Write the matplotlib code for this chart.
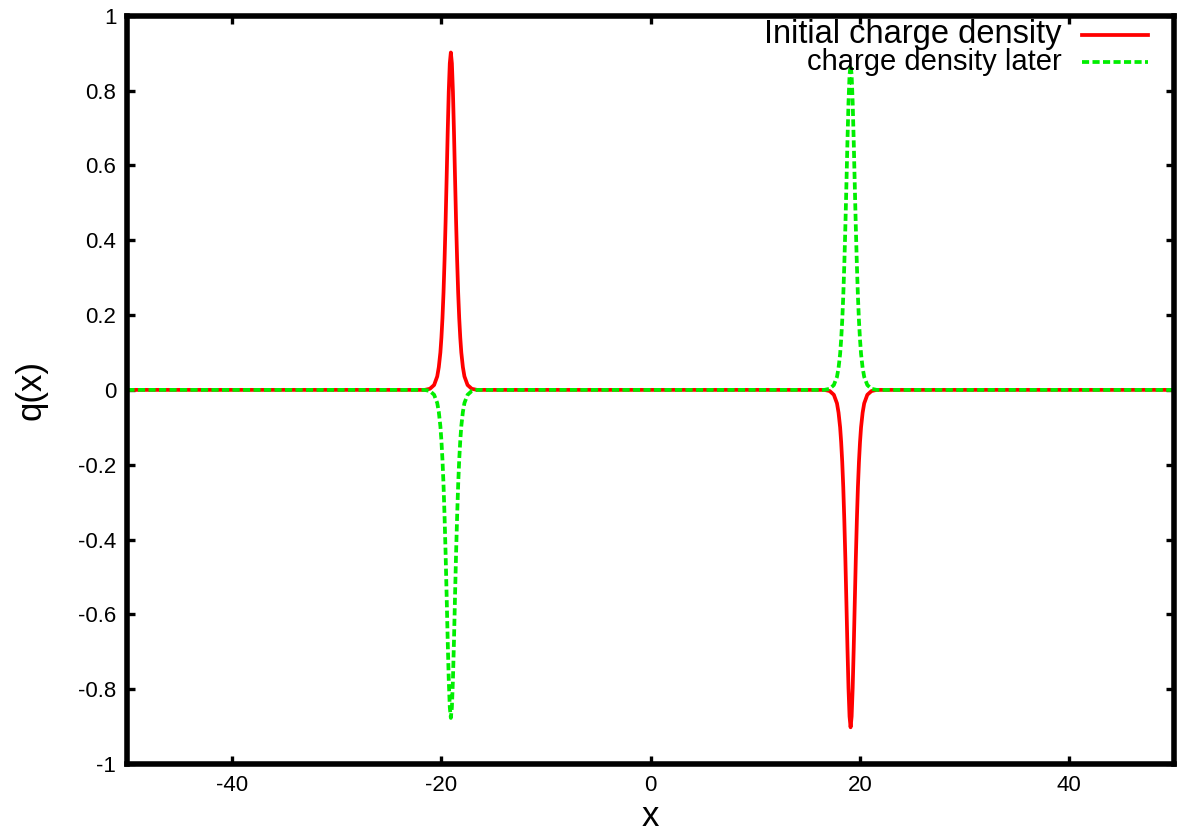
import matplotlib
matplotlib.use('Agg')
import matplotlib.pyplot as plt

plt.rcParams['font.family'] = ['Liberation Sans', 'DejaVu Sans']
plt.rcParams['axes.unicode_minus'] = False

# x samples around the two pulses
x_left = [-21.6, -21.1, -20.7, -20.4, -20.25, -20.1, -20.0, -19.9, -19.8, -19.7,
          -19.6, -19.5, -19.4, -19.3, -19.2, -19.1, -19.0, -18.9, -18.8, -18.7,
          -18.6, -18.5, -18.4, -18.3, -18.2, -18.1, -17.95, -17.8, -17.5, -17.1, -16.6]
x_right = [16.6, 17.1, 17.5, 17.8, 17.95, 18.1, 18.2, 18.3, 18.4, 18.5,
           18.6, 18.7, 18.8, 18.9, 19.0, 19.1, 19.2, 19.3, 19.4, 19.5,
           19.6, 19.7, 19.8, 19.9, 20.0, 20.1, 20.25, 20.4, 20.7, 21.1, 21.6]

# initial charge density: positive pulse at -19, negative at +19
q_init_left = [0, 0.003, 0.013, 0.036, 0.061, 0.100, 0.140, 0.192, 0.260, 0.348,
               0.451, 0.568, 0.689, 0.797, 0.873, 0.902, 0.873, 0.797, 0.689, 0.568,
               0.451, 0.348, 0.260, 0.192, 0.140, 0.100, 0.061, 0.036, 0.013, 0.003, 0]
q_init_right = [0, -0.003, -0.013, -0.036, -0.061, -0.100, -0.140, -0.192, -0.260, -0.348,
                -0.451, -0.568, -0.689, -0.797, -0.873, -0.902, -0.873, -0.797, -0.689, -0.568,
                -0.451, -0.348, -0.260, -0.192, -0.140, -0.100, -0.061, -0.036, -0.013, -0.003, 0]

# charge density later: signs swapped, slightly lower amplitude
q_later_left = [0, -0.003, -0.013, -0.035, -0.059, -0.097, -0.136, -0.187, -0.253, -0.338,
                -0.438, -0.552, -0.670, -0.775, -0.849, -0.877, -0.849, -0.775, -0.670, -0.552,
                -0.438, -0.338, -0.253, -0.187, -0.136, -0.097, -0.059, -0.035, -0.013, -0.003, 0]
q_later_right = [0, 0.003, 0.013, 0.035, 0.059, 0.096, 0.135, 0.185, 0.251, 0.335,
                 0.435, 0.548, 0.664, 0.768, 0.842, 0.868, 0.842, 0.768, 0.664, 0.548,
                 0.435, 0.335, 0.251, 0.185, 0.135, 0.096, 0.059, 0.035, 0.013, 0.003, 0]

x_all = [-50] + x_left + x_right + [50]
q_init = [0] + q_init_left + q_init_right + [0]
q_later = [0] + q_later_left + q_later_right + [0]

x_ticks = [-40, -20, 0, 20, 40]
y_ticks = [-1, -0.8, -0.6, -0.4, -0.2, 0, 0.2, 0.4, 0.6, 0.8, 1]
y_ticklabels = ['-1', '-0.8', '-0.6', '-0.4', '-0.2', '0', '0.2', '0.4', '0.6', '0.8', '1']

fig = plt.figure(figsize=(11.87, 8.34), dpi=100)
ax = fig.add_axes([0.1074, 0.084, 0.8816, 0.897])

red = '#ff0000'
green = '#00ee00'
lw = 2.7
dash = (1.9, 0.9)
ax.plot(x_all, q_init, color=red, lw=lw)
ax.plot(x_all, q_later, color=green, lw=lw, dashes=dash)

ax.set_xlim(-50, 50)
ax.set_ylim(-1, 1)
ax.set_xticks(x_ticks)
ax.set_xticklabels([str(t) for t in x_ticks])
ax.set_yticks(y_ticks)
ax.set_yticklabels(y_ticklabels)
ax.tick_params(direction='in', length=6, width=2.4, top=True, right=True,
               labelsize=16, pad=8)
for s in ax.spines.values():
    s.set_linewidth(4)

ax.set_xlabel('x', fontsize=25, labelpad=3)
ax.set_ylabel('q(x)', fontsize=25, labelpad=22)

# gnuplot style key: right aligned text, sample line on the right
ax.text(0.893, 0.9746, 'Initial charge density', transform=ax.transAxes,
        ha='right', va='center', fontsize=23.5)
ax.plot([0.912, 0.975], [0.9746, 0.9746], transform=ax.transAxes,
        color=red, lw=lw, clip_on=False)
ax.text(0.893, 0.9385, 'charge density later', transform=ax.transAxes,
        ha='right', va='center', fontsize=21)
ax.plot([0.912, 0.975], [0.9385, 0.9385], transform=ax.transAxes,
        color=green, lw=lw, dashes=dash, clip_on=False)

plt.savefig('out.png', dpi=100)
